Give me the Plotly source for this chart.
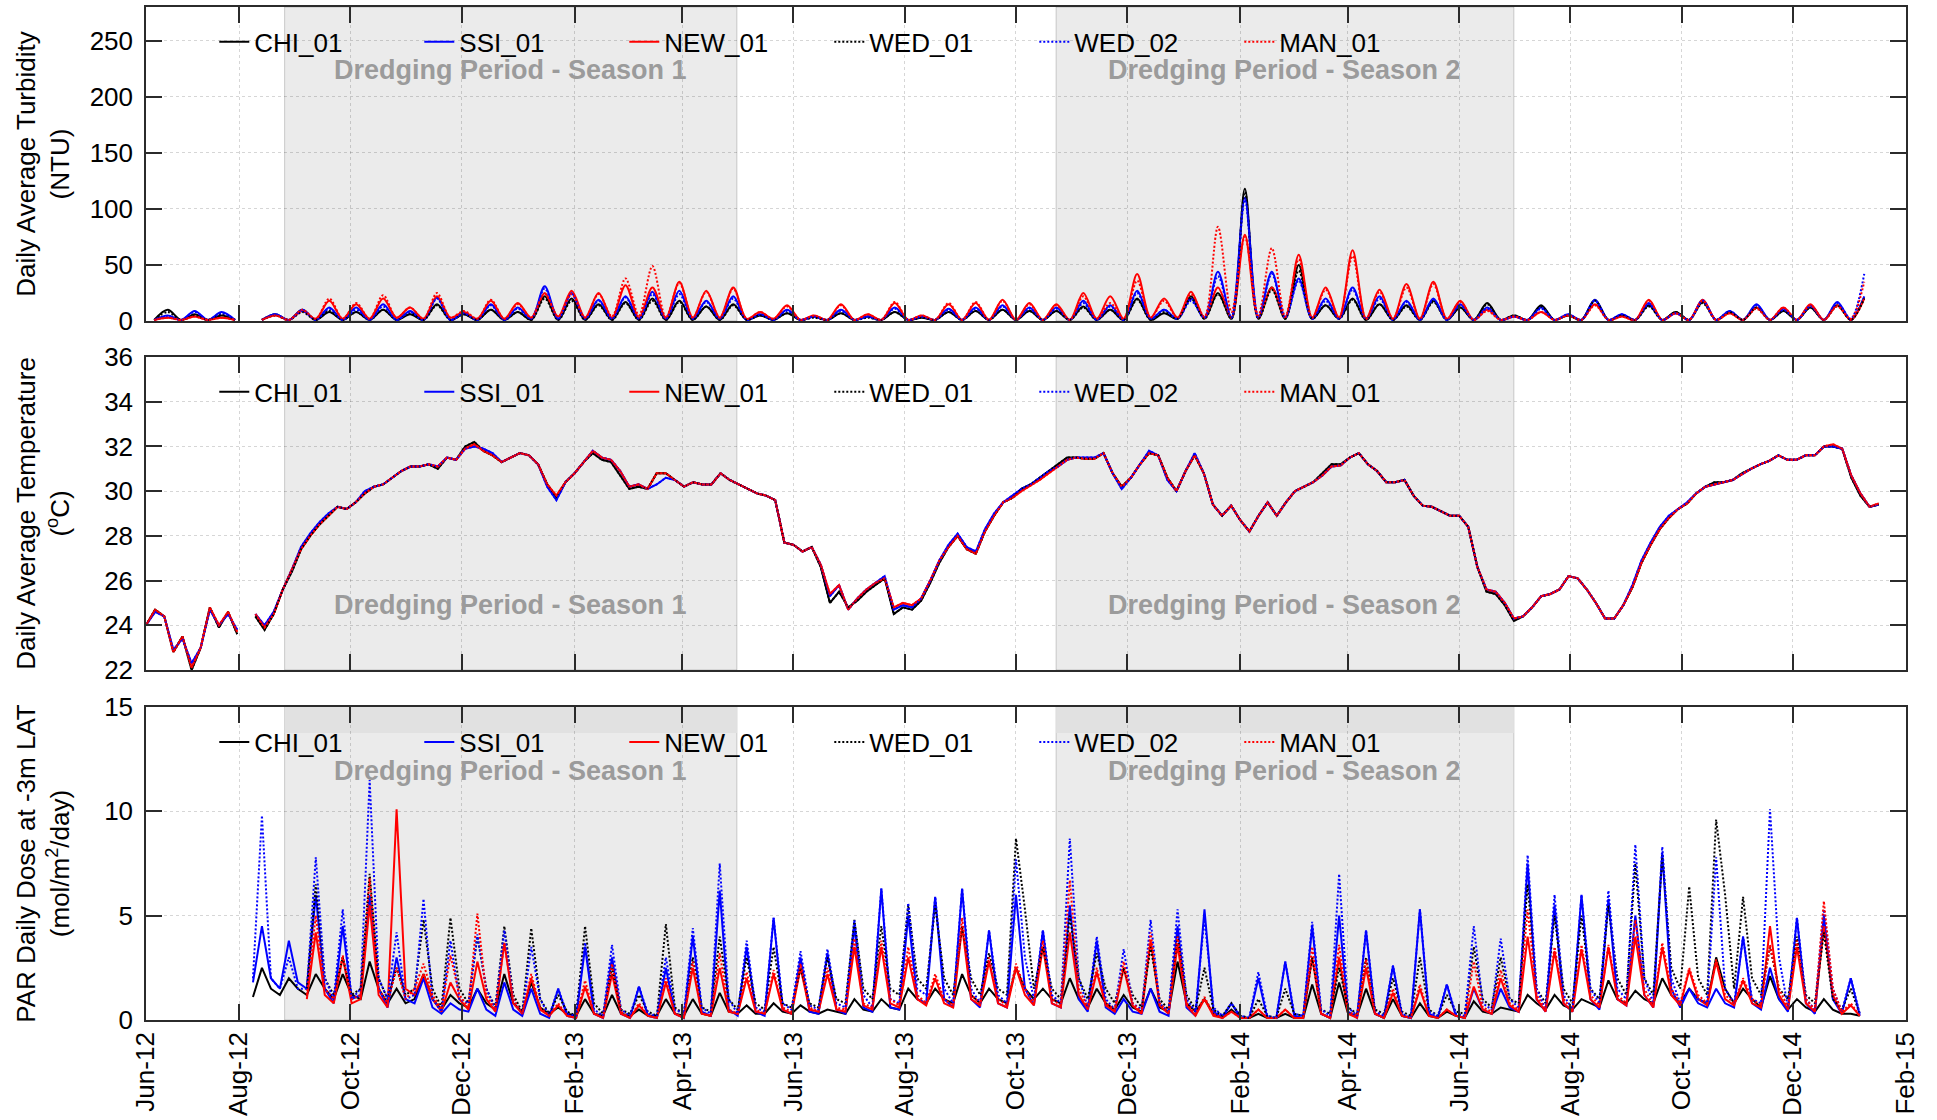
import plotly.graph_objects as go
from datetime import datetime, timedelta

# ------------------------------------------------------------------ categories
SITES = ["CHI_01", "SSI_01", "NEW_01", "WED_01", "WED_02", "MAN_01"]

TICK_DATES = ["2012-06-11", "2012-08-01", "2012-10-01", "2012-12-01", "2013-02-01",
              "2013-04-01", "2013-06-01", "2013-08-01", "2013-10-01", "2013-12-01",
              "2014-02-01", "2014-04-01", "2014-06-01", "2014-08-01", "2014-10-01",
              "2014-12-01", "2015-02-01"]
TICK_LABELS = ["Jun-12", "Aug-12", "Oct-12", "Dec-12", "Feb-13", "Apr-13", "Jun-13",
               "Aug-13", "Oct-13", "Dec-13", "Feb-14", "Apr-14", "Jun-14", "Aug-14",
               "Oct-14", "Dec-14", "Feb-15"]
X_START, X_END = "2012-06-11", "2015-02-01"

SEASON_NAMES = ["Dredging Period - Season 1", "Dredging Period - Season 2"]
SEASON_START = ["2012-08-26", "2013-10-23"]
SEASON_END = ["2013-05-01", "2014-07-01"]

# ------------------------------------------------------------------ sampling grids (dates)
TEMP_START, TEMP_STEP = "2012-06-11", 5.0            # every 5 days
TIDE_ANCHOR = "2013-10-01"                           # spring/neap reference date
TURB_STEP, TURB_FIRST = 7.3826, -64                  # half spring-neap cycle
PAR_STEP, PAR_FIRST = 4.9218, -85                    # third of spring-neap cycle

# ------------------------------------------------------------------ turbidity (NTU), trough/peak pairs
TURB_CHI_01 = [1, 10, 1, 6, 1, 5, 1, None, 1, 6, 1, 10, 1, 8, 1, 8,
               1, 10, 1, 6, 1, 15, 1, 6, 1, 10, 1, 8, 1, 22, 1, 20,
               1, 15, 1, 17, 1, 20, 1, 18, 1, 13, 1, 15, 1, 5, 1, 7,
               1, 4, 1, 7, 1, 4, 1, 8, 1, 3, 1, 8, 1, 9, 1, 10,
               1, 9, 1, 9, 1, 13, 1, 10, 1, 20, 1, 7, 2, 22, 2, 25,
               2, 118, 2, 30, 2, 50, 2, 14, 2, 20, 1, 15, 1, 14, 1, 18,
               1, 12, 1, 16, 1, 5, 1, 14, 1, 5, 1, 19, 1, 5, 1, 14,
               1, 8, 1, 17, 1, 8, 1, 12, 1, 9, 1, 12, 1, 14, 1, 21]
TURB_SSI_01 = [1, 5, 1, 9, 1, 8, 1, None, 1, 6, 1, 10, 1, 12, 1, 12,
               1, 15, 1, 9, 1, 21, 1, 7, 1, 15, 1, 12, 2, 31, 2, 25,
               2, 19, 2, 22, 2, 26, 2, 27, 2, 18, 2, 22, 1, 6, 1, 10,
               1, 4, 1, 10, 1, 4, 1, 12, 1, 4, 1, 11, 1, 12, 1, 14,
               1, 12, 1, 12, 1, 18, 1, 14, 1, 27, 2, 10, 2, 20, 3, 44,
               3, 110, 3, 44, 3, 38, 2, 20, 2, 30, 2, 22, 1, 18, 1, 20,
               1, 15, 1, 12, 1, 4, 1, 12, 1, 6, 1, 19, 1, 6, 1, 16,
               1, 7, 1, 19, 1, 9, 1, 15, 1, 11, 1, 14, 1, 17, 1, 22]
TURB_NEW_01 = [1, 3, 1, 4, 1, 3, 1, None, 1, 5, 1, 9, 2, 18, 2, 15,
               2, 20, 3, 12, 2, 22, 3, 8, 2, 18, 2, 16, 3, 25, 4, 27,
               3, 25, 3, 32, 3, 30, 3, 35, 3, 27, 3, 30, 2, 8, 2, 14,
               1, 5, 1, 15, 1, 6, 1, 16, 1, 5, 1, 15, 1, 16, 1, 19,
               1, 16, 1, 15, 1, 25, 2, 22, 2, 42, 3, 20, 3, 26, 3, 30,
               3, 77, 3, 30, 3, 59, 3, 30, 3, 63, 2, 28, 2, 33, 2, 35,
               2, 18, 1, 10, 1, 4, 1, 8, 1, 5, 1, 15, 1, 4, 1, 19,
               1, 7, 1, 19, 1, 7, 1, 12, 1, 12, 1, 15, 1, 14, 1, 20]
TURB_WED_01 = [1, 8, 1, 5, 1, 6, 1, None, 1, 5, 1, 8, 1, 9, 1, 8,
               1, 10, 1, 7, 1, 14, 1, 6, 1, 10, 1, 8, 1, 20, 1, 18,
               1, 14, 1, 16, 1, 18, 1, 17, 1, 13, 1, 14, 1, 5, 1, 7,
               1, 3, 1, 7, 1, 3, 1, 8, 1, 3, 1, 8, 1, 9, 1, 10,
               1, 9, 1, 9, 1, 12, 1, 10, 1, 19, 1, 8, 2, 20, 2, 24,
               2, 115, 2, 28, 2, 45, 2, 14, 2, 19, 1, 15, 1, 13, 1, 17,
               1, 12, 1, 15, 1, 5, 1, 13, 1, 5, 1, 18, 1, 5, 1, 13,
               1, 8, 1, 16, 1, 8, 1, 12, 1, 9, 1, 12, 1, 14, 1, 20]
TURB_WED_02 = [1, 4, 1, 8, 1, 7, 1, None, 1, 6, 1, 9, 1, 11, 1, 10,
               1, 13, 1, 8, 1, 20, 1, 7, 1, 14, 1, 11, 2, 29, 2, 24,
               2, 18, 2, 21, 2, 24, 2, 24, 2, 17, 2, 20, 1, 6, 1, 9,
               1, 4, 1, 9, 1, 4, 1, 11, 1, 4, 1, 10, 1, 11, 1, 13,
               1, 11, 1, 11, 1, 16, 1, 13, 1, 25, 2, 10, 2, 18, 3, 40,
               3, 108, 3, 42, 3, 36, 2, 18, 2, 28, 2, 20, 1, 17, 1, 19,
               1, 14, 1, 11, 1, 4, 1, 11, 1, 6, 1, 18, 1, 6, 1, 15,
               1, 7, 1, 18, 1, 9, 1, 14, 1, 10, 1, 13, 1, 16, 2, 42]
TURB_MAN_01 = [1, 3, 1, 4, 1, 3, 1, None, 1, 5, 1, 10, 2, 20, 2, 16,
               2, 23, 3, 12, 2, 25, 3, 9, 2, 19, 2, 15, 3, 24, 4, 24,
               3, 24, 4, 38, 5, 49, 3, 34, 3, 26, 3, 29, 2, 8, 2, 13,
               1, 5, 1, 14, 1, 6, 1, 17, 1, 5, 1, 16, 1, 17, 1, 18,
               1, 15, 1, 14, 1, 22, 2, 16, 2, 36, 3, 18, 3, 24, 4, 84,
               8, 75, 5, 65, 4, 55, 3, 28, 3, 58, 2, 26, 2, 30, 2, 33,
               2, 17, 1, 9, 1, 4, 1, 8, 1, 5, 1, 14, 1, 4, 1, 18,
               1, 7, 1, 18, 1, 7, 1, 11, 1, 12, 1, 14, 1, 13, 2, 35]

# ------------------------------------------------------------------ temperature (deg C), every 5 days
TEMP_NEW_01 = [24.0, 24.7, 24.4, 22.8, 23.5, 22.1, 23.0, 24.8, 24.0, 24.6,
               23.7, None, 24.5, 23.9, 24.5, 25.6, 26.5, 27.4, 28.0, 28.5,
               28.9, 29.3, 29.2, 29.5, 29.9, 30.2, 30.3, 30.6, 30.9, 31.1,
               31.1, 31.2, 31.1, 31.5, 31.4, 31.9, 32.1, 31.8, 31.6, 31.3,
               31.5, 31.7, 31.6, 31.2, 30.3, 29.8, 30.4, 30.8, 31.3, 31.8,
               31.5, 31.4, 30.9, 30.2, 30.3, 30.1, 30.8, 30.8, 30.5, 30.2,
               30.4, 30.3, 30.3, 30.8, 30.5, 30.3, 30.1, 29.9, 29.8, 29.6,
               27.7, 27.6, 27.3, 27.5, 26.7, 25.4, 25.8, 24.7, 25.2, 25.6,
               25.9, 26.1, 24.8, 25.0, 24.9, 25.2, 26.0, 26.9, 27.5, 28.0,
               27.4, 27.2, 28.2, 28.9, 29.5, 29.7, 30.0, 30.25, 30.5, 30.8,
               31.1, 31.4, 31.5, 31.45, 31.45, 31.7, 30.8, 30.2, 30.6, 31.2,
               31.7, 31.6, 30.6, 30.0, 30.9, 31.6, 30.8, 29.4, 28.9, 29.35,
               28.7, 28.2, 28.9, 29.5, 28.9, 29.5, 30.0, 30.2, 30.4, 30.7,
               31.1, 31.15, 31.5, 31.7, 31.2, 30.9, 30.4, 30.4, 30.5, 29.8,
               29.35, 29.3, 29.1, 28.9, 28.9, 28.4, 26.6, 25.6, 25.5, 25.0,
               24.3, 24.4, 24.8, 25.3, 25.4, 25.6, 26.2, 26.1, 25.6, 25.0,
               24.3, 24.3, 24.9, 25.7, 26.8, 27.6, 28.3, 28.8, 29.2, 29.45,
               29.9, 30.2, 30.3, 30.4, 30.5, 30.75, 31.0, 31.2, 31.35, 31.6,
               31.4, 31.4, 31.6, 31.6, 32.0, 32.1, 31.9, 30.7, 29.9, 29.3,
               29.45]
TEMP_CHI_01 = [24.0, 24.7, 24.4, 22.8, 23.5, 22.0, 23.0, 24.8, 23.9, 24.6,
               23.6, None, 24.4, 23.8, 24.5, 25.6, 26.4, 27.4, 28.0, 28.5,
               28.9, 29.3, 29.2, 29.5, 29.9, 30.2, 30.3, 30.6, 30.9, 31.1,
               31.1, 31.2, 31.0, 31.5, 31.4, 32.0, 32.2, 31.8, 31.6, 31.3,
               31.5, 31.7, 31.6, 31.2, 30.3, 29.7, 30.4, 30.8, 31.3, 31.7,
               31.4, 31.3, 30.7, 30.1, 30.2, 30.1, 30.8, 30.8, 30.5, 30.2,
               30.4, 30.3, 30.3, 30.8, 30.5, 30.3, 30.1, 29.9, 29.8, 29.6,
               27.7, 27.6, 27.3, 27.5, 26.6, 25.0, 25.5, 24.8, 25.1, 25.5,
               25.8, 26.1, 24.5, 24.8, 24.7, 25.1, 25.9, 26.8, 27.5, 28.0,
               27.4, 27.2, 28.2, 28.9, 29.5, 29.7, 30.1, 30.3, 30.6, 30.9,
               31.2, 31.5, 31.5, 31.45, 31.45, 31.7, 30.8, 30.2, 30.6, 31.2,
               31.7, 31.6, 30.6, 30.0, 30.9, 31.6, 30.8, 29.4, 28.9, 29.35,
               28.7, 28.2, 28.9, 29.5, 28.9, 29.5, 30.0, 30.2, 30.4, 30.8,
               31.2, 31.2, 31.5, 31.7, 31.2, 30.9, 30.4, 30.4, 30.5, 29.8,
               29.35, 29.3, 29.1, 28.9, 28.9, 28.4, 26.6, 25.5, 25.4, 24.9,
               24.2, 24.4, 24.8, 25.3, 25.4, 25.6, 26.2, 26.1, 25.6, 25.0,
               24.3, 24.3, 24.9, 25.7, 26.8, 27.6, 28.3, 28.8, 29.2, 29.45,
               29.9, 30.2, 30.4, 30.4, 30.5, 30.8, 31.0, 31.2, 31.35, 31.6,
               31.4, 31.4, 31.6, 31.6, 32.0, 32.0, 31.9, 30.6, 29.8, 29.3,
               29.4]
TEMP_SSI_01 = [24.0, 24.6, 24.4, 22.9, 23.4, 22.3, 23.0, 24.7, 24.0, 24.5,
               23.8, None, 24.5, 24.0, 24.6, 25.6, 26.5, 27.5, 28.1, 28.6,
               29.0, 29.3, 29.2, 29.5, 30.0, 30.2, 30.3, 30.6, 30.9, 31.1,
               31.1, 31.2, 31.1, 31.5, 31.4, 31.9, 32.0, 31.9, 31.7, 31.3,
               31.5, 31.7, 31.6, 31.2, 30.2, 29.6, 30.4, 30.8, 31.3, 31.8,
               31.5, 31.4, 30.9, 30.2, 30.3, 30.1, 30.3, 30.6, 30.5, 30.2,
               30.4, 30.3, 30.3, 30.8, 30.5, 30.3, 30.1, 29.9, 29.8, 29.6,
               27.7, 27.6, 27.3, 27.5, 26.7, 25.3, 25.8, 24.7, 25.2, 25.6,
               25.9, 26.2, 24.7, 24.9, 24.8, 25.2, 26.0, 26.9, 27.6, 28.1,
               27.5, 27.3, 28.3, 29.0, 29.5, 29.8, 30.1, 30.3, 30.6, 30.9,
               31.1, 31.4, 31.5, 31.5, 31.5, 31.7, 30.8, 30.1, 30.6, 31.2,
               31.8, 31.6, 30.5, 30.0, 30.9, 31.7, 30.8, 29.4, 28.9, 29.35,
               28.7, 28.2, 28.9, 29.5, 28.9, 29.5, 30.0, 30.2, 30.4, 30.7,
               31.1, 31.15, 31.5, 31.7, 31.2, 30.9, 30.4, 30.4, 30.5, 29.8,
               29.35, 29.3, 29.1, 28.9, 28.9, 28.4, 26.6, 25.6, 25.5, 25.0,
               24.3, 24.4, 24.8, 25.3, 25.4, 25.6, 26.2, 26.1, 25.6, 25.0,
               24.3, 24.3, 24.9, 25.8, 26.9, 27.7, 28.4, 28.9, 29.2, 29.5,
               29.9, 30.2, 30.3, 30.4, 30.5, 30.75, 31.0, 31.2, 31.35, 31.6,
               31.4, 31.4, 31.6, 31.6, 32.0, 32.0, 31.9, 30.7, 29.9, 29.3,
               29.4]
TEMP_WED_01 = TEMP_CHI_01   # indistinguishable from CHI_01 in the figure
TEMP_WED_02 = TEMP_SSI_01   # indistinguishable from SSI_01 in the figure
TEMP_MAN_01 = TEMP_NEW_01   # indistinguishable from NEW_01 in the figure

# ------------------------------------------------------------------ PAR daily dose (mol/m2/day)
PAR_CHI_01 = [1.1,
    2.5, 1.5, 1.2, 2.0, 1.5, 1.2, 2.2, 1.5, 1.0, 2.2, 1.2, 1.0, 2.8, 1.5, 0.8,
    1.5, 0.8, 1.0, 2.2, 1.0, 0.5, 1.2, 0.8, 0.6, 1.5, 0.8, 0.5, 2.2, 0.8, 0.4,
    1.8, 0.6, 0.3, 0.6, 0.3, 0.2, 1.0, 0.3, 0.2, 1.2, 0.3, 0.2, 0.5, 0.2, 0.2,
    1.0, 0.3, 0.2, 1.0, 0.3, 0.2, 1.3, 0.4, 0.3, 0.7, 0.3, 0.3, 0.8, 0.4, 0.3,
    0.7, 0.4, 0.3, 0.5, 0.4, 0.3, 1.0, 0.5, 0.4, 1.0, 0.6, 0.5, 1.5, 1.0, 0.8,
    1.5, 1.0, 0.8, 2.2, 1.2, 0.8, 1.5, 1.0, 0.8, 2.5, 1.5, 1.0, 1.5, 1.0, 0.8,
    2.0, 1.0, 0.6, 1.5, 0.8, 0.5, 1.2, 0.6, 0.4, 1.5, 0.6, 0.4, 2.8, 0.8, 0.4,
    1.0, 0.3, 0.1, 0.5, 0.1, 0.1, 0.3, 0.1, 0.1, 0.3, 0.1, 0.1, 1.7, 0.3, 0.1,
    1.8, 0.3, 0.2, 1.5, 0.3, 0.1, 1.0, 0.2, 0.1, 0.8, 0.2, 0.1, 0.4, 0.2, 0.1,
    0.9, 0.4, 0.3, 0.6, 0.5, 0.4, 1.2, 0.8, 0.5, 1.2, 0.7, 0.5, 1.0, 0.8, 0.6,
    1.9, 1.0, 0.8, 1.4, 1.0, 0.8, 2.0, 1.2, 0.8, 1.5, 1.0, 0.8, 3.0, 1.5, 0.8,
    1.5, 1.0, 0.6, 2.1, 1.0, 0.5, 1.0, 0.6, 0.4, 1.0, 0.5, 0.3, 0.3, 0.2]
PAR_SSI_01 = [1.8,
    4.5, 2.0, 1.5, 3.8, 1.8, 1.5, 6.0, 1.5, 0.8, 4.5, 1.0, 1.2, 6.0, 1.5, 0.6,
    3.0, 1.0, 0.8, 2.0, 0.6, 0.3, 0.8, 0.5, 0.4, 1.5, 0.5, 0.2, 1.8, 0.5, 0.2,
    1.5, 0.3, 0.1, 1.5, 0.2, 0.1, 3.5, 0.3, 0.1, 3.0, 0.3, 0.1, 1.6, 0.2, 0.1,
    2.5, 0.3, 0.1, 4.0, 0.4, 0.2, 6.2, 0.5, 0.2, 3.5, 0.4, 0.2, 4.9, 0.5, 0.3,
    3.0, 0.4, 0.3, 3.2, 0.5, 0.3, 4.5, 0.6, 0.4, 6.3, 0.6, 0.5, 5.0, 1.0, 0.8,
    5.9, 1.0, 0.6, 6.3, 1.0, 0.6, 4.3, 0.8, 0.6, 6.0, 1.5, 0.7, 4.3, 0.8, 0.6,
    5.5, 1.0, 0.4, 3.8, 0.6, 0.3, 1.0, 0.4, 0.3, 1.5, 0.4, 0.2, 4.5, 0.6, 0.2,
    5.3, 0.4, 0.1, 0.8, 0.1, 0.1, 2.0, 0.1, 0.1, 2.8, 0.2, 0.1, 4.5, 0.3, 0.1,
    5.0, 0.4, 0.1, 4.3, 0.3, 0.1, 2.6, 0.2, 0.1, 5.3, 0.3, 0.1, 1.7, 0.2, 0.1,
    1.5, 0.5, 0.3, 1.5, 0.6, 0.4, 7.5, 1.0, 0.4, 5.5, 0.8, 0.4, 6.0, 1.0, 0.5,
    5.8, 1.0, 0.7, 5.0, 1.2, 0.6, 8.0, 1.5, 0.6, 1.5, 0.8, 0.6, 1.5, 0.8, 0.6,
    4.0, 0.8, 0.5, 2.5, 1.0, 0.4, 4.9, 0.8, 0.3, 5.0, 1.0, 0.3, 2.0, 0.2]
PAR_NEW_01 = [None,
    None, None, None, None, None, 1.0, 4.2, 1.2, 0.8, 3.0, 0.8, 1.0, 5.5, 1.2, 0.6,
    10.1, 1.5, 1.2, 2.2, 1.0, 0.4, 1.8, 1.0, 0.5, 2.8, 1.0, 0.4, 3.7, 0.8, 0.3,
    2.0, 0.5, 0.2, 0.7, 0.2, 0.1, 1.6, 0.3, 0.1, 2.2, 0.3, 0.1, 0.7, 0.2, 0.1,
    1.8, 0.3, 0.1, 2.5, 0.3, 0.2, 2.5, 0.4, 0.3, 2.0, 0.4, 0.3, 2.2, 0.5, 0.3,
    2.5, 0.5, 0.4, 2.2, 0.5, 0.4, 3.5, 0.7, 0.5, 3.5, 0.8, 0.6, 3.0, 1.0, 0.7,
    2.0, 0.8, 0.6, 4.5, 1.0, 0.7, 2.8, 0.8, 0.6, 2.5, 1.2, 0.7, 3.5, 0.8, 0.6,
    4.2, 1.2, 0.5, 2.3, 0.7, 0.4, 2.5, 0.7, 0.3, 3.8, 0.7, 0.3, 3.6, 0.7, 0.2,
    1.0, 0.2, 0.1, 0.4, 0.1, 0.1, 0.5, 0.1, 0.1, 0.5, 0.1, 0.1, 3.0, 0.3, 0.1,
    3.0, 0.3, 0.1, 2.5, 0.3, 0.1, 1.3, 0.2, 0.1, 1.5, 0.2, 0.1, 0.5, 0.2, 0.1,
    1.6, 0.5, 0.3, 2.0, 0.7, 0.4, 4.0, 1.0, 0.4, 3.3, 0.8, 0.4, 3.4, 1.0, 0.6,
    3.5, 1.0, 0.7, 4.0, 1.2, 0.6, 3.5, 1.2, 0.7, 2.4, 1.0, 0.7, 2.8, 1.0, 0.7,
    1.9, 0.8, 0.6, 4.5, 1.2, 0.5, 3.5, 0.8, 0.4, 4.5, 1.2, 0.3, 0.7, 0.2]
PAR_WED_01 = [None,
    None, None, None, None, None, 1.5, 6.5, 2.0, 1.2, 3.0, 1.2, 1.5, 7.0, 2.0, 1.0,
    2.5, 1.2, 1.5, 4.8, 1.5, 0.6, 4.9, 1.5, 0.8, 4.0, 1.5, 0.6, 4.5, 1.2, 0.4,
    4.4, 1.0, 0.3, 1.2, 0.4, 0.2, 4.5, 0.8, 0.3, 2.5, 0.5, 0.3, 1.2, 0.4, 0.2,
    4.6, 0.6, 0.3, 3.0, 0.6, 0.4, 4.0, 1.0, 0.5, 3.0, 0.8, 0.5, 3.5, 0.8, 0.6,
    2.5, 0.8, 0.6, 3.0, 1.0, 0.8, 4.8, 1.5, 1.0, 4.5, 1.5, 1.2, 5.5, 2.0, 1.5,
    5.5, 2.0, 1.2, 4.5, 2.0, 1.2, 3.2, 1.5, 1.2, 8.7, 5.3, 1.5, 3.5, 1.5, 1.0,
    5.0, 2.0, 1.0, 3.2, 1.5, 0.8, 2.5, 1.2, 0.6, 3.5, 1.0, 0.5, 4.0, 1.2, 0.5,
    2.5, 0.5, 0.2, 0.8, 0.2, 0.1, 1.0, 0.2, 0.1, 1.5, 0.3, 0.2, 3.0, 0.5, 0.3,
    2.5, 0.6, 0.3, 3.0, 0.5, 0.3, 2.0, 0.4, 0.2, 3.0, 0.5, 0.2, 1.2, 0.4, 0.3,
    3.5, 1.0, 0.6, 3.0, 1.0, 0.8, 6.5, 1.5, 0.8, 5.0, 1.5, 0.8, 5.0, 1.5, 1.0,
    5.5, 2.0, 1.2, 7.5, 2.0, 1.2, 7.9, 2.5, 1.5, 6.4, 2.0, 1.2, 9.6, 6.0, 1.5,
    5.9, 2.0, 1.2, 3.5, 1.5, 1.0, 4.0, 1.2, 0.8, 4.2, 1.0, 0.5, 1.5, 0.3]
PAR_WED_02 = [2.0,
    9.8, 2.0, 1.5, 3.0, 1.5, 1.5, 7.8, 2.0, 1.0, 5.3, 1.0, 1.5, 11.5, 2.0, 1.0,
    4.2, 1.0, 1.2, 5.8, 1.0, 0.4, 3.8, 1.0, 0.8, 4.1, 1.5, 0.5, 4.3, 1.0, 0.3,
    3.5, 1.0, 0.2, 1.5, 0.3, 0.2, 3.7, 0.5, 0.2, 3.6, 0.5, 0.2, 1.6, 0.3, 0.2,
    3.0, 0.5, 0.3, 4.4, 0.6, 0.3, 7.5, 1.0, 0.3, 3.8, 0.6, 0.4, 4.9, 0.8, 0.5,
    3.3, 0.7, 0.5, 3.4, 0.8, 0.6, 4.8, 1.2, 0.6, 6.3, 1.0, 0.8, 5.6, 1.5, 1.2,
    5.9, 1.5, 0.8, 6.3, 1.5, 0.8, 4.3, 1.2, 0.8, 7.7, 3.0, 1.0, 4.3, 1.2, 0.8,
    8.7, 2.0, 0.6, 4.0, 1.0, 0.5, 3.4, 0.8, 0.5, 4.8, 0.8, 0.4, 5.3, 1.0, 0.4,
    4.9, 0.6, 0.2, 0.8, 0.2, 0.1, 2.3, 0.2, 0.1, 2.8, 0.3, 0.2, 4.7, 0.5, 0.2,
    7.0, 0.6, 0.2, 4.3, 0.4, 0.2, 2.6, 0.3, 0.1, 5.3, 0.4, 0.2, 1.7, 0.3, 0.2,
    4.5, 0.8, 0.5, 3.9, 1.0, 0.6, 7.9, 1.5, 0.5, 6.0, 1.2, 0.5, 6.0, 1.5, 0.8,
    6.2, 1.5, 1.0, 8.4, 2.0, 0.8, 8.3, 2.0, 0.8, 1.5, 1.0, 0.8, 7.8, 1.5, 0.8,
    4.0, 1.0, 0.8, 10.1, 3.0, 0.6, 4.9, 1.0, 0.5, 5.3, 1.5, 0.4, 2.0, 0.3]
PAR_MAN_01 = [None,
    None, None, None, None, None, 1.2, 5.0, 1.5, 1.0, 3.1, 1.0, 1.2, 6.8, 1.5, 0.8,
    2.5, 1.0, 1.5, 2.7, 1.2, 0.5, 3.1, 1.2, 0.6, 5.1, 1.2, 0.5, 3.7, 1.0, 0.3,
    2.2, 0.6, 0.2, 0.8, 0.2, 0.1, 1.9, 0.3, 0.1, 2.7, 0.4, 0.1, 0.8, 0.2, 0.1,
    2.0, 0.3, 0.1, 2.8, 0.3, 0.2, 3.2, 0.5, 0.3, 2.3, 0.5, 0.3, 2.4, 0.6, 0.4,
    2.7, 0.6, 0.4, 2.5, 0.6, 0.5, 3.9, 0.8, 0.6, 3.8, 1.0, 0.7, 3.5, 1.2, 0.8,
    2.2, 1.0, 0.7, 4.9, 1.2, 0.8, 3.0, 1.0, 0.7, 2.7, 1.5, 0.8, 3.8, 1.0, 0.7,
    6.7, 1.5, 0.6, 2.5, 0.8, 0.5, 2.8, 0.8, 0.4, 4.2, 0.8, 0.4, 4.0, 0.8, 0.3,
    1.1, 0.3, 0.1, 0.4, 0.1, 0.1, 0.5, 0.1, 0.1, 0.5, 0.1, 0.1, 3.5, 0.3, 0.1,
    3.6, 0.4, 0.2, 2.9, 0.3, 0.1, 1.5, 0.2, 0.1, 1.7, 0.2, 0.1, 0.5, 0.2, 0.1,
    2.8, 0.6, 0.4, 2.4, 0.8, 0.5, 5.3, 1.2, 0.5, 3.5, 1.0, 0.5, 3.6, 1.2, 0.7,
    3.6, 1.2, 0.8, 4.8, 1.5, 0.7, 3.7, 1.5, 0.8, 2.5, 1.2, 0.8, 2.9, 1.2, 0.8,
    2.0, 1.0, 0.7, 3.6, 1.5, 0.6, 3.8, 1.0, 0.5, 5.7, 1.5, 0.4, 0.8, 0.2]

TURB = {"CHI_01": TURB_CHI_01, "SSI_01": TURB_SSI_01, "NEW_01": TURB_NEW_01,
        "WED_01": TURB_WED_01, "WED_02": TURB_WED_02, "MAN_01": TURB_MAN_01}
TEMP = {"CHI_01": TEMP_CHI_01, "SSI_01": TEMP_SSI_01, "NEW_01": TEMP_NEW_01,
        "WED_01": TEMP_WED_01, "WED_02": TEMP_WED_02, "MAN_01": TEMP_MAN_01}
PAR = {"CHI_01": PAR_CHI_01, "SSI_01": PAR_SSI_01, "NEW_01": PAR_NEW_01,
       "WED_01": PAR_WED_01, "WED_02": PAR_WED_02, "MAN_01": PAR_MAN_01}

# ------------------------------------------------------------------ styles
COLOR = {"CHI_01": "#000000", "SSI_01": "#0000ff", "NEW_01": "#ff0000",
         "WED_01": "#000000", "WED_02": "#0000ff", "MAN_01": "#ff0000"}
DASH = {"CHI_01": "solid", "SSI_01": "solid", "NEW_01": "solid",
        "WED_01": "2px,2px", "WED_02": "2px,2px", "MAN_01": "2px,2px"}
FONT = "Liberation Sans, Arial, Helvetica, sans-serif"
GRID = "rgba(0,0,0,0.16)"
AXC = "#2b2b2b"


def dates(start, step, first, n):
    t0 = datetime.fromisoformat(start)
    return [t0 + timedelta(days=(first + i) * step) for i in range(n)]


fig = go.Figure()
panels = [
    (TURB, "x", "y", "legend", "spline", lambda n: dates(TIDE_ANCHOR, TURB_STEP, TURB_FIRST, n)),
    (TEMP, "x2", "y2", "legend2", "linear", lambda n: dates(TEMP_START, TEMP_STEP, 0, n)),
    (PAR, "x3", "y3", "legend3", "linear", lambda n: dates(TIDE_ANCHOR, PAR_STEP, PAR_FIRST, n)),
]
for data, xa, ya, leg, shape, xfun in panels:
    for s in SITES:
        vals = data[s]
        fig.add_trace(go.Scatter(
            x=xfun(len(vals)), y=vals, mode="lines", name=s,
            line=dict(color=COLOR[s], width=2, dash=DASH[s], shape=shape,
                      **({"smoothing": 0.9} if shape == "spline" else {})),
            xaxis=xa, yaxis=ya, legend=leg, connectgaps=False))

axis_common = dict(showline=True, linecolor=AXC, linewidth=1.5, mirror="ticks",
                   ticks="inside", ticklen=16, tickwidth=1.5, tickcolor=AXC,
                   showgrid=True, gridcolor=GRID, griddash="dot", gridwidth=1,
                   zeroline=False, automargin=False,
                   tickfont=dict(family=FONT, size=26, color="black"))

xcommon = dict(type="date", range=[X_START, X_END], tickvals=TICK_DATES,
               ticktext=TICK_LABELS, **axis_common)

title_font = dict(family=FONT, size=26, color="black")
fig.update_layout(
    width=1937, height=1120,
    margin=dict(l=146, r=31, t=7, b=100, autoexpand=False),
    paper_bgcolor="white", plot_bgcolor="white",
    showlegend=True,
    xaxis=dict(anchor="y", showticklabels=False, **xcommon),
    xaxis2=dict(anchor="y2", matches="x", showticklabels=False, **xcommon),
    xaxis3=dict(anchor="y3", matches="x", showticklabels=True, tickangle=-90, **xcommon),
    yaxis=dict(domain=[0.690, 1.0], range=[0, 280], tickvals=[0, 50, 100, 150, 200, 250],
               ticklabelstandoff=6,
               title=dict(text="Daily Average Turbidity<br>(NTU)", font=title_font, standoff=13),
               **axis_common),
    yaxis2=dict(domain=[0.3455, 0.6545], range=[22, 36], dtick=2, ticklabelstandoff=6,
                title=dict(text="Daily Average Temperature<br>(<sup>o</sup>C)", font=title_font, standoff=27),
                **axis_common),
    yaxis3=dict(domain=[0.0, 0.309], range=[0, 15], dtick=5, ticklabelstandoff=6,
                title=dict(text="PAR Daily Dose at -3m LAT<br>(mol/m<sup>2</sup>/day)", font=title_font, standoff=27),
                **axis_common),
)

leg_common = dict(orientation="h", x=0.0388, xanchor="left", yanchor="middle",
                  bgcolor="rgba(0,0,0,0)", borderwidth=0, itemwidth=30,
                  entrywidth=160, entrywidthmode="pixels",
                  font=dict(family=FONT, size=26, color="black"))
fig.update_layout(legend=dict(y=0.9655, **leg_common),
                  legend2=dict(y=0.620, **leg_common),
                  legend3=dict(y=0.2744, **leg_common))

# dredging shading and labels
label_y = {"y": 224, "y2": 24.9, "y3": 11.93}
for ya in ["y", "y2", "y3"]:
    xa = "x" if ya == "y" else "x" + ya[1:]
    for name, a, b in zip(SEASON_NAMES, SEASON_START, SEASON_END):
        fig.add_shape(type="rect", xref=xa, yref=f"{ya} domain", x0=a, x1=b, y0=0, y1=1,
                      fillcolor="#ebebeb", line=dict(color="rgba(0,0,0,0.18)", width=1),
                      layer="below")
        if ya == "y3":
            fig.add_shape(type="rect", xref=xa, yref="y3", x0=a, x1=b, y0=13.75, y1=15,
                          fillcolor="#e1e1e1", line=dict(width=0), layer="below")
        mid = datetime.fromisoformat(a) + (datetime.fromisoformat(b) - datetime.fromisoformat(a)) / 2
        fig.add_annotation(x=mid, y=label_y[ya], xref=xa, yref=ya, text=f"<b>{name}</b>",
                           showarrow=False, xanchor="center", yanchor="middle",
                           font=dict(family=FONT, size=27, color="#9b9b9b"))

fig.write_html("out.html")
